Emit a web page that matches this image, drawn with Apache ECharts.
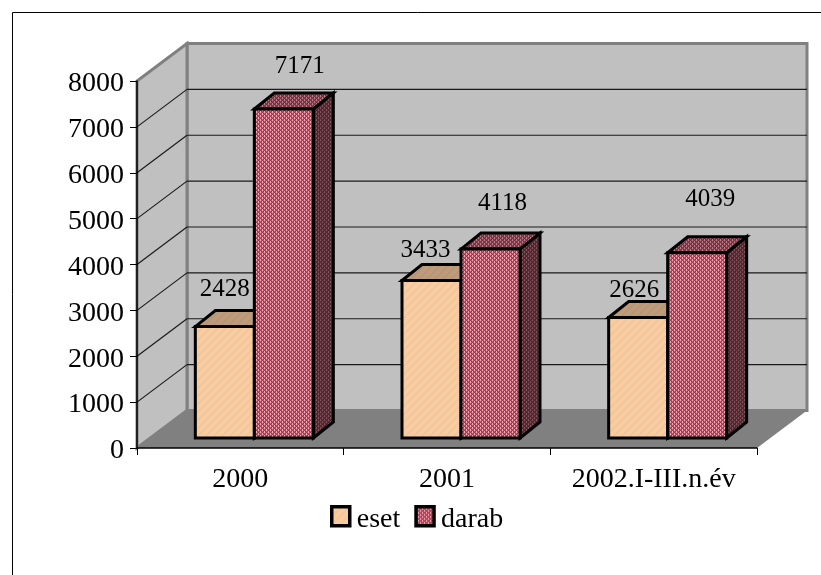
<!DOCTYPE html>
<html><head><meta charset="utf-8">
<style>html,body{margin:0;padding:0;background:#fff}#c{width:821px;height:575px}</style>
<script src="https://cdn.jsdelivr.net/npm/echarts@6/dist/echarts.min.js"></script>
</head><body><div id="c"></div>
<script>
const categories = ['2000', '2001', '2002.I-III.n.év'];
const esetValues = [2428, 3433, 2626];
const darabValues = [7171, 4118, 4039];
const yTicks = [0, 1000, 2000, 3000, 4000, 5000, 6000, 7000, 8000];

// layout of the pseudo-3D scene, in pixels
const WALL_DX = 50, WALL_DY = -37.5;
const BAR_DX = 20, BAR_DY = -16, BAR_SHIFT_X = 14, BAR_SHIFT_Y = -10, BAR_RATIO = 0.2855;
const LABEL_OFFSETS = {
  eset: { dx: [0, -6, -4], dy: [-37, -30, -27] },
  darab: { dx: [16, 12, 13], dy: [-43, -46, -53] }
};
const FONT = '"Liberation Serif","Times New Roman",serif';

function tile(size, draw) {
  const c = document.createElement('canvas');
  c.width = c.height = size;
  const g = c.getContext('2d');
  const img = g.createImageData(size, size);
  for (let y = 0; y < size; y++) for (let x = 0; x < size; x++) {
    const col = draw(x, y), i = (y * size + x) * 4;
    img.data[i] = col[0]; img.data[i + 1] = col[1]; img.data[i + 2] = col[2]; img.data[i + 3] = 255;
  }
  g.putImageData(img, 0, 0);
  return { image: c, repeat: 'repeat' };
}
const scale = (c, k) => c.map(v => Math.round(v * k));
const esetTile = k => tile(8, (x, y) => scale(((x + y) % 8) < 3 ? [236, 200, 165] : [255, 204, 153], k));
const darabMap = ['PAMAPAMA', 'AMPMAMPM', 'MAPAMAPA', 'PMAMPMAM'];
const darabTile = k => tile(8, (x, y) => {
  const ch = darabMap[y % 4][x % 8];
  const col = ch === 'P' ? [240, 170, 150] : ch === 'M' ? [153, 51, 102] : [195, 80, 125];
  return scale(col, k);
});
const fills = {
  eset: { front: esetTile(1), top: esetTile(0.76), side: esetTile(0.5) },
  darab: { front: darabTile(1), top: darabTile(0.76), side: darabTile(0.52) }
};

function barRenderer(name, slot) {
  const f = fills[name];
  const off = LABEL_OFFSETS[name];
  return function (params, api) {
    const i = api.value(0), v = api.value(1);
    const base = api.coord([i, 0]), top = api.coord([i, v]);
    const w = api.size([1, 0])[0] * BAR_RATIO;
    const mid = base[0] + BAR_SHIFT_X;
    const x0 = slot === 0 ? mid - w : mid, x1 = x0 + w;
    const yb = base[1] + BAR_SHIFT_Y, yt = top[1] + BAR_SHIFT_Y;
    const line = { stroke: '#000', lineWidth: 3, lineJoin: 'miter' };
    const poly = (pts, fill) => ({ type: 'polygon', shape: { points: pts }, style: Object.assign({ fill }, line) });
    return {
      type: 'group',
      children: [
        poly([[x1, yb], [x1 + BAR_DX, yb + BAR_DY], [x1 + BAR_DX, yt + BAR_DY], [x1, yt]], f.side),
        poly([[x0, yt], [x0 + BAR_DX, yt + BAR_DY], [x1 + BAR_DX, yt + BAR_DY], [x1, yt]], f.top),
        poly([[x0, yb], [x1, yb], [x1, yt], [x0, yt]], f.front),
        { type: 'text', style: { text: String(v), x: (x0 + x1) / 2 + off.dx[i], y: yt + off.dy[i], align: 'center', verticalAlign: 'middle', fill: '#000', font: '25px ' + FONT }, z2: 50 }
      ]
    };
  };
}

function sceneRenderer(params, api) {
  const cs = params.coordSys;
  const l = cs.x, r = cs.x + cs.width, t = cs.y, b = cs.y + cs.height;
  return {
    type: 'group',
    children: [
      { type: 'polygon', shape: { points: [[l + WALL_DX, t + WALL_DY], [r + WALL_DX, t + WALL_DY], [r + WALL_DX, b + WALL_DY], [l + WALL_DX, b + WALL_DY]] }, style: { fill: '#C0C0C0', stroke: '#808080', lineWidth: 3 } },
      { type: 'polygon', shape: { points: [[l, b], [l + WALL_DX, b + WALL_DY], [l + WALL_DX, t + WALL_DY], [l, t]] }, style: { fill: '#C0C0C0', stroke: '#808080', lineWidth: 3 } },
      { type: 'polygon', shape: { points: [[l, b], [l + WALL_DX, b + WALL_DY], [r + WALL_DX, b + WALL_DY], [r, b]] }, style: { fill: '#808080' } }
    ]
  };
}

function gridRenderer(params, api) {
  const cs = params.coordSys;
  const p = api.coord([0, api.value(0)]);
  const y = p[1], l = cs.x, r = cs.x + cs.width;
  if (api.value(0) === 0 || api.value(0) === 8000) return { type: 'group', children: [] };
  const s = { stroke: '#1a1a1a', lineWidth: 1.2, fill: null };
  return {
    type: 'group',
    children: [
      { type: 'polyline', shape: { points: [[l, y], [l + WALL_DX, y + WALL_DY]] }, style: s },
      { type: 'polyline', shape: { points: [[l + WALL_DX, y + WALL_DY], [r + WALL_DX, y + WALL_DY]] }, style: s }
    ]
  };
}

const chart = echarts.init(document.getElementById('c'), null, { renderer: 'canvas' });
chart.setOption({
  animation: false,
  backgroundColor: '#fff',
  textStyle: { fontFamily: FONT },
  graphic: [{ type: 'polyline', shape: { points: [[12.5, 600], [12.5, 12.5], [840, 12.5]] }, style: { stroke: '#000', lineWidth: 1, fill: null }, silent: true }],
  grid: { left: 137, right: 64, top: 81, bottom: 127 },
  xAxis: {
    type: 'category', data: categories, z: 5,
    axisLine: { lineStyle: { color: '#000', width: 1.5 } },
    axisTick: { show: true, interval: 0, length: 7, lineStyle: { color: '#000', width: 1 } },
    axisLabel: { color: '#000', fontSize: 28, fontFamily: FONT, margin: 18, interval: 0, hideOverlap: false },
    splitLine: { show: false }
  },
  yAxis: {
    type: 'value', min: 0, max: 8000, interval: 1000, z: 5,
    axisLine: { show: true, lineStyle: { color: '#000', width: 1.5 } },
    axisTick: { show: true, length: 7, lineStyle: { color: '#000', width: 1 } },
    axisLabel: { color: '#000', fontSize: 28, fontFamily: FONT, margin: 13, formatter: v => String(v), verticalAlign: 'top', verticalAlignMinLabel: 'top', verticalAlignMaxLabel: 'top', lineHeight: 6 },
    splitLine: { show: false }
  },
  legend: {
    left: 325, top: 500, itemWidth: 18, itemHeight: 19, itemGap: 14,
    formatter: name => '{t|' + name + '}',
    textStyle: {
      color: '#000', fontSize: 28, fontFamily: FONT, padding: [0, 0, 0, 2],
      rich: { t: { color: '#000', fontSize: 28, fontFamily: FONT, padding: [6, 0, 0, 0] } }
    },
    data: [
      { name: 'eset', icon: 'rect', itemStyle: { color: fills.eset.front, borderColor: '#000', borderWidth: 3.5 } },
      { name: 'darab', icon: 'rect', itemStyle: { color: fills.darab.front, borderColor: '#000', borderWidth: 3.5 } }
    ]
  },
  series: [
    { type: 'custom', name: 'scene', coordinateSystem: 'cartesian2d', data: [[0, 0]], encode: { x: 0, y: 1 }, renderItem: sceneRenderer, silent: true, z: 1, clip: false },
    { type: 'custom', name: 'grid', coordinateSystem: 'cartesian2d', data: yTicks.map(v => [v]), encode: { y: 0 }, renderItem: gridRenderer, silent: true, z: 1.5, clip: false },
    { type: 'custom', name: 'eset', coordinateSystem: 'cartesian2d', data: esetValues.map((v, i) => [i, v]), encode: { x: 0, y: 1 }, renderItem: barRenderer('eset', 0), z: 2, clip: false },
    { type: 'custom', name: 'darab', coordinateSystem: 'cartesian2d', data: darabValues.map((v, i) => [i, v]), encode: { x: 0, y: 1 }, renderItem: barRenderer('darab', 1), z: 3, clip: false }
  ]
});
</script></body></html>
